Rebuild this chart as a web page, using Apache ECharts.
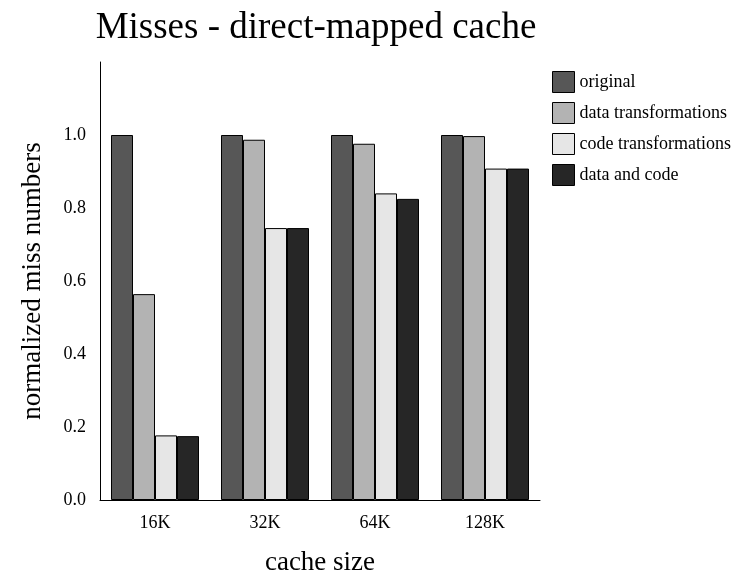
<!DOCTYPE html>
<html>
<head>
<meta charset="utf-8">
<script src="https://cdn.jsdelivr.net/npm/echarts@6/dist/echarts.min.js"></script>
<style>
  html, body { margin: 0; padding: 0; background: #fff; }
  #chart { width: 736px; height: 573px; }
</style>
</head>
<body>
<div id="chart"></div>
<script>
const categories = ['16K', '32K', '64K', '128K']
const original = [1.0, 1.0, 1.0, 1.0]
const dataTransformations = [0.564, 0.987, 0.976, 0.997]
const codeTransformations = [0.177, 0.745, 0.840, 0.908]
const dataAndCode = [0.175, 0.745, 0.825, 0.908]
const yTicks = [0, 0.2, 0.4, 0.6, 0.8, 1.0]

const serif = 'Liberation Serif, Times New Roman, serif'
const mkSeries = (name, data, color) => ({
  name,
  type: 'bar',
  data,
  barGap: 0,
  barCategoryGap: '20%',
  itemStyle: { color, borderColor: '#000', borderWidth: 1 }
})

const mychart = echarts.init(document.getElementById('chart'))
mychart.setOption({
  animation: false,
  title: {
    text: 'Misses - direct-mapped cache',
    left: 311,
    textAlign: 'center',
    top: 5,
    textStyle: { fontFamily: serif, fontSize: 37, fontWeight: 'normal', color: '#000' }
  },
  legend: {
    orient: 'vertical',
    left: 547,
    top: 66,
    itemWidth: 22,
    itemHeight: 21,
    itemGap: 9,
    icon: 'rect',
    textStyle: { fontFamily: serif, fontSize: 18, color: '#000' },
    itemStyle: { borderColor: '#000', borderWidth: 1 }
  },
  grid: { left: 100, right: 196, top: 62, bottom: 73, containLabel: false, outerBoundsMode: 'none' },
  xAxis: {
    type: 'category',
    data: categories,
    name: 'cache size',
    nameLocation: 'middle',
    nameGap: 49,
    nameTextStyle: { fontFamily: serif, fontSize: 27, color: '#000' },
    axisLine: { lineStyle: { color: '#000', width: 1 } },
    axisTick: { show: false },
    axisLabel: { fontFamily: serif, fontSize: 18, color: '#000', margin: 14 }
  },
  yAxis: {
    type: 'value',
    min: 0,
    max: 1.2,
    interval: 0.2,
    name: 'normalized miss numbers',
    nameLocation: 'middle',
    nameGap: 54,
    nameTextStyle: { fontFamily: serif, fontSize: 27, color: '#000' },
    axisLine: { show: true, lineStyle: { color: '#000', width: 1 } },
    axisTick: { show: false },
    splitLine: { show: false },
    axisLabel: {
      fontFamily: serif, fontSize: 18, color: '#000', margin: 14,
      formatter: v => yTicks.some(t => Math.abs(t - v) < 1e-6) ? v.toFixed(1) : ''
    }
  },
  series: [
    mkSeries('original', original, '#575757'),
    mkSeries('data transformations', dataTransformations, '#b3b3b3'),
    mkSeries('code transformations', codeTransformations, '#e6e6e6'),
    mkSeries('data and code', dataAndCode, '#262626')
  ]
})
</script>
</body>
</html>
